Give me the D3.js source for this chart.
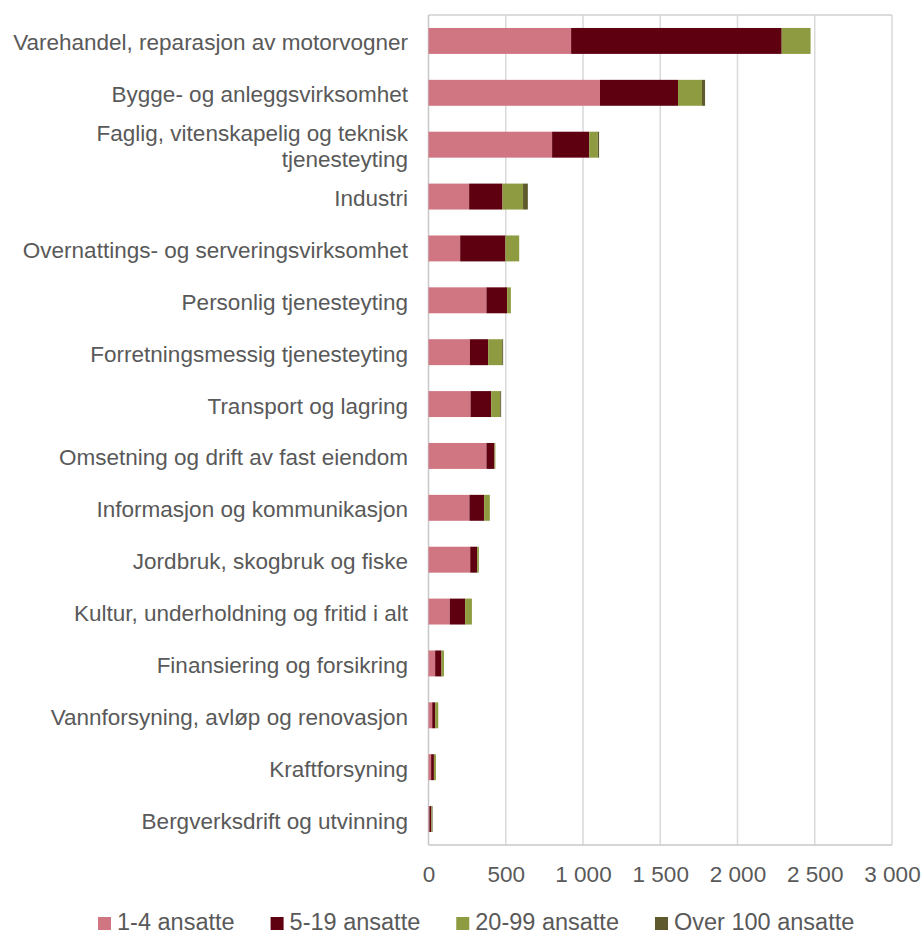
<!DOCTYPE html>
<html>
<head>
<meta charset="utf-8">
<script src="https://cdn.jsdelivr.net/npm/d3@7"></script>
<style>
  html, body { margin: 0; padding: 0; background: #fff; }
  svg { display: block; font-family: "Liberation Sans", Arial, sans-serif; }
</style>
</head>
<body>
<svg id="chart" width="924" height="935"></svg>
<script>
// ---- Data ----
const categories = [
  "Varehandel, reparasjon av motorvogner",
  "Bygge- og anleggsvirksomhet",
  "Faglig, vitenskapelig og teknisk\ntjenesteyting",
  "Industri",
  "Overnattings- og serveringsvirksomhet",
  "Personlig tjenesteyting",
  "Forretningsmessig tjenesteyting",
  "Transport og lagring",
  "Omsetning og drift av fast eiendom",
  "Informasjon og kommunikasjon",
  "Jordbruk, skogbruk og fiske",
  "Kultur, underholdning og fritid i alt",
  "Finansiering og forsikring",
  "Vannforsyning, avløp og renovasjon",
  "Kraftforsyning",
  "Bergverksdrift og utvinning"
];
const seriesNames = ["1-4 ansatte", "5-19 ansatte", "20-99 ansatte", "Over 100 ansatte"];
const ansatte1_4   = [923, 1110, 800, 263, 205, 375, 268, 272, 375, 265, 270, 138, 43, 24, 17, 6];
const ansatte5_19  = [1363, 505, 240, 216, 293, 134, 118, 134, 52, 95, 45, 99, 41, 19, 18, 12];
const ansatte20_99 = [187, 155, 56, 133, 89, 24, 91, 58, 6, 37, 11, 44, 16, 20, 13, 4];
const ansatteOver100 = [0, 20, 8, 31, 0, 0, 6, 6, 0, 0, 0, 0, 0, 0, 0, 4];
const xTicks = [0, 500, 1000, 1500, 2000, 2500, 3000];
const colors = ["#D07683", "#5E0010", "#8E9B41", "#5E5A2E"];

(function () {
// ---- Build table ----
const seriesValues = [ansatte1_4, ansatte5_19, ansatte20_99, ansatteOver100];
const table = categories.map((c, i) => {
  const row = { category: c };
  seriesNames.forEach((s, k) => row[s] = seriesValues[k][i]);
  return row;
});
const stacked = d3.stack().keys(seriesNames)(table);

// ---- Layout ----
const svg = d3.select("#chart");
const pL = 428.5, pR = 892, pT = 15, pB = 845;
const textColor = "#595959";
const locale = d3.formatLocale({ decimal: ",", thousands: "\u00a0", grouping: [3], currency: ["", " kr"] });
const fmt = locale.format(",");

const x = d3.scaleLinear().domain([0, 3000]).range([pL, pR]);
const y = d3.scaleBand().domain(categories).range([pT, pB]).paddingInner(0.5).paddingOuter(0.25);

// gridlines
svg.append("g").selectAll("line").data(xTicks.slice(1)).join("line")
  .attr("x1", d => x(d)).attr("x2", d => x(d))
  .attr("y1", pT).attr("y2", pB)
  .attr("stroke", "#d9d9d9").attr("stroke-width", 1.5);

// plot border top/bottom
svg.append("line").attr("x1", pL).attr("x2", pR).attr("y1", pT).attr("y2", pT)
  .attr("stroke", "#d0d0d0").attr("stroke-width", 1.5);
svg.append("line").attr("x1", pL).attr("x2", pR).attr("y1", pB).attr("y2", pB)
  .attr("stroke", "#c8c8c8").attr("stroke-width", 1.5);
// left axis line
svg.append("line").attr("x1", pL).attr("x2", pL).attr("y1", pT).attr("y2", pB)
  .attr("stroke", "#c8c8c8").attr("stroke-width", 1.5);

// bars
svg.append("g").selectAll("g").data(stacked).join("g")
  .attr("fill", (d, i) => colors[i])
  .selectAll("rect").data(d => d).join("rect")
  .attr("x", d => x(d[0]))
  .attr("width", d => Math.max(0, x(d[1]) - x(d[0])))
  .attr("y", d => y(d.data.category))
  .attr("height", y.bandwidth());

// x tick labels
const xAxis = d3.axisBottom(x).tickValues(xTicks).tickFormat(fmt).tickSize(0).tickPadding(0);
const gx = svg.append("g").attr("transform", `translate(0,${pB})`).call(xAxis);
gx.select(".domain").remove();
gx.selectAll("text")
  .attr("y", 37).attr("dy", 0)
  .attr("font-size", "22.5px")
  .attr("font-family", "Liberation Sans, Arial, sans-serif")
  .attr("fill", textColor);

// y category labels
const gy = svg.append("g");
categories.forEach(c => {
  const lines = c.split("\n");
  const cy = y(c) + y.bandwidth() / 2;
  const t = gy.append("text")
    .attr("x", 408).attr("text-anchor", "end")
    .attr("font-size", "22.5px").attr("fill", textColor);
  lines.forEach((ln, i) => {
    const off = (i - (lines.length - 1) / 2) * 26;
    t.append("tspan").attr("x", 408).attr("y", cy + off + 9.5).text(ln);
  });
});

// legend
const lg = svg.append("g");
let lx = 98;
seriesNames.forEach((s, i) => {
  lg.append("rect").attr("x", lx).attr("y", 917).attr("width", 13).attr("height", 13).attr("fill", colors[i]);
  const t = lg.append("text").attr("x", lx + 19).attr("y", 929.5)
    .attr("font-size", "23.5px").attr("fill", textColor).text(s);
  lx += 19 + t.node().getComputedTextLength() + 36;
});
})();
</script>
</body>
</html>
